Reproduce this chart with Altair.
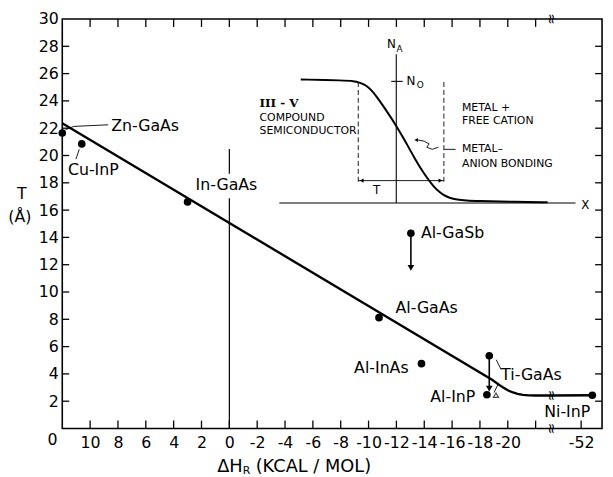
import altair as alt
import pandas as pd

# ---------------- values ----------------
point_names = ["Zn-GaAs", "Cu-InP", "In-GaAs", "Al-GaSb", "Al-GaAs",
               "Al-InAs", "Ti-GaAs", "Al-InP", "Ni-InP"]
point_dH = [12.0, 10.6, 3.0, -13.04, -10.75, -13.8, -18.67, -18.5, -52.8]
point_T = [21.65, 20.85, 16.6, 14.3, 8.12, 4.75, 5.33, 2.47, 2.44]

fit_dH = [12.0, -18.9, -19.3, -19.67, -20.0, -20.38, -20.7, -21.09, -21.5, -22.0, -23.1, -52.8]
fit_T = [22.37, 3.55, 3.25, 3.0, 2.8, 2.64, 2.53, 2.46, 2.43, 2.42, 2.42, 2.44]

x_tick_values = [10, 8, 6, 4, 2, 0, -2, -4, -6, -8, -10, -12, -14, -16, -18, -20, -22, -52]
x_tick_labels = ["10", "8", "6", "4", "2", "0", "-2", "-4", "-6", "-8", "-10",
                 "-12", "-14", "-16", "-18", "-20", "", "-52"]
y_tick_values = [2, 4, 6, 8, 10, 12, 14, 16, 18, 20, 22, 24, 26, 28, 30]

label_text = ["Zn-GaAs", "Cu-InP", "In-GaAs", "Al-GaSb", "Al-GaAs",
              "Al-InAs", "Ti-GaAs", "Al-InP", "Ni-InP"]
label_dH = [8.49, 9.77, 0.21, -13.76, -14.17, -10.92, -19.52, -16.05, -51.0]
label_T = [22.13, 18.93, 17.8, 14.31, 8.82, 4.44, 3.94, 2.27, 1.19]
label_align = ["left", "center", "center", "left", "center",
               "center", "left", "center", "center"]

arrow_dH = [-13.04, -18.67]
arrow_T_from = [14.3, 5.33]
arrow_T_tip = [11.47, 2.63]

open_marker_dH = [-19.15]
open_marker_T = [2.44]

# leader lines: (group, dH, T)
leader_group = ["zn", "zn", "zn", "cu", "cu", "ti1", "ti1", "ti2", "ti2"]
leader_dH = [11.77, 11.18, 8.70, 10.78, 11.02, -19.17, -19.52, -19.36, -19.01]
leader_T = [21.89, 22.13, 22.25, 20.45, 19.73, 5.04, 4.32, 3.36, 2.64]

# vertical line at dH = 0 (interrupted by the In-GaAs label)
zero_line_from = [0.0, 18.66]
zero_line_to = [16.86, 20.47]

# ---------------- inset schematic ----------------
inset_x = [-5.13, -8.32, -8.9, -9.35, -9.7, -10.0, -10.35, -10.68, -11.39, -11.99, -12.57, -13.28,
           -13.99, -14.70, -15.1, -15.41, -15.8, -16.35, -17.0, -17.77, -20.14, -22.86]
inset_N = [25.57, 25.50, 25.45, 25.35, 25.2, 24.98, 24.62, 24.17, 23.12, 22.18, 21.17, 19.84,
           18.64, 17.68, 17.32, 17.08, 16.9, 16.77, 16.7, 16.66, 16.62, 16.57]
inset_axis_x = [-3.59, -24.87]
inset_axis_T = 16.52
inset_NA_pos = -11.99
inset_NA_top = 27.42
inset_N0_T = 25.43
inset_N0_x = [-11.63, -12.45]
inset_dash_x = [-9.26, -15.41]
inset_dash_T = [25.38, 17.92]
inset_T_arrow_T = 18.16

inset_text = ["COMPOUND", "SEMICONDUCTOR", "METAL +",
              "FREE CATION", "METAL\u2013", "ANION BONDING"]
inset_text_x = [-2.17, -2.17, -16.71, -16.71, -16.71, -16.71]
inset_text_T = [22.73, 21.77, 23.50, 22.49, 20.45, 19.36]
inset_roman = "III - V"
inset_roman_x = -2.17
inset_roman_T = 23.85

squiggle_dH = [-15.41, -16.25, None, -15.01, -14.58, -14.18, -14.35, -13.99, -13.52]
squiggle_T = [20.45, 20.45, None, 20.61, 20.45, 20.61, 20.85, 21.05, 21.14]

BREAK_POS = -23.1
SHIFT = 26.73  # axis break: -52 is drawn at position -25.27


def axis_pos(v):
    return v + SHIFT if v < -30 else v


W, H = 547, 415
xs = alt.Scale(domain=[12, -26.77], nice=False, zero=False)
ys = alt.Scale(domain=[0, 30], nice=False, zero=False)
FONT = "DejaVu Sans"

xpos = [axis_pos(v) for v in x_tick_values]
lab_expr = "''"
for p, l in zip(xpos, x_tick_labels):
    lab_expr = f"abs(datum.value - ({p})) < 0.01 ? '{l}' : ({lab_expr})"

X_AXIS = alt.Axis(values=xpos, labelExpr=lab_expr, ticks=False, domain=False,
                  grid=False, title=None, labelFontSize=16, labelFont=FONT,
                  labelColor="black", labelPadding=6, labelOverlap=False, labelFlush=False)
Y_AXIS = alt.Axis(values=y_tick_values, ticks=False, domain=False, grid=False,
                  title=None, labelFontSize=16, labelFont=FONT,
                  labelColor="black", labelPadding=4, labelOverlap=False, labelFlush=False)


def X(field="x"):
    return alt.X(f"{field}:Q", scale=xs, axis=X_AXIS)


def Y(field="y"):
    return alt.Y(f"{field}:Q", scale=ys, axis=Y_AXIS)


# ---------- tick rules (inward ticks on all four sides) ----------
bottom_ticks = alt.Chart(pd.DataFrame({"x": xpos})).mark_rule(color="black", strokeWidth=1.3).encode(
    x=X(), y=alt.value(H), y2=alt.value(H - 8))
top_ticks = alt.Chart(pd.DataFrame({"x": [p for p in xpos if p > -24]})).mark_rule(
    color="black", strokeWidth=1.3).encode(x=X(), y=alt.value(0), y2=alt.value(8))
left_ticks = alt.Chart(pd.DataFrame({"y": y_tick_values[:-1]})).mark_rule(color="black", strokeWidth=1.3).encode(
    y=Y(), x=alt.value(0), x2=alt.value(7))
right_ticks = alt.Chart(pd.DataFrame({"y": y_tick_values[:-1]})).mark_rule(color="black", strokeWidth=1.3).encode(
    y=Y(), x=alt.value(W), x2=alt.value(W - 7))

# vertical line at 0
zero_line = alt.Chart(pd.DataFrame({"x": [0.0, 0.0], "y": zero_line_from, "y2": zero_line_to})).mark_rule(
    color="black", strokeWidth=1.2).encode(x=X(), y=Y(), y2="y2:Q")

# fit line
fit_df = pd.DataFrame({"x": [axis_pos(v) for v in fit_dH], "y": fit_T, "o": range(len(fit_dH))})
fit_line = alt.Chart(fit_df).mark_line(color="black", strokeWidth=2.4).encode(
    x=X(), y=Y(), order="o:Q")

# points
pts_df = pd.DataFrame({"x": [axis_pos(v) for v in point_dH], "y": point_T, "name": point_names})
points = alt.Chart(pts_df).mark_point(filled=True, color="black", size=60, opacity=1).encode(
    x=X(), y=Y(), tooltip="name:N")

# arrows
arr_df = pd.DataFrame({"x": arrow_dH, "y": arrow_T_from, "y2": [t + 0.35 for t in arrow_T_tip]})
arrow_shafts = alt.Chart(arr_df).mark_rule(color="black", strokeWidth=1.6).encode(x=X(), y=Y(), y2="y2:Q")
arrow_heads = alt.Chart(pd.DataFrame({"x": arrow_dH, "y": [t + 0.3 for t in arrow_T_tip]})).mark_point(
    shape="triangle-down", filled=True, color="black", size=45, opacity=1).encode(x=X(), y=Y())

open_marker = alt.Chart(pd.DataFrame({"x": open_marker_dH, "y": open_marker_T})).mark_point(
    shape="triangle-up", filled=False, color="black", size=28, strokeWidth=1.2).encode(x=X(), y=Y())

# leaders
lead_df = pd.DataFrame({"x": leader_dH, "y": leader_T, "g": leader_group, "o": range(len(leader_dH))})
leaders = alt.Chart(lead_df).mark_line(color="black", strokeWidth=0.9).encode(
    x=X(), y=Y(), detail="g:N", order="o:Q")

# point labels
lab_df = pd.DataFrame({"x": [axis_pos(v) for v in label_dH], "y": label_T, "t": label_text, "a": label_align})
labels_left = alt.Chart(lab_df[lab_df.a == "left"]).mark_text(
    align="left", baseline="middle", fontSize=16, font=FONT, color="black").encode(x=X(), y=Y(), text="t:N")
labels_center = alt.Chart(lab_df[lab_df.a == "center"]).mark_text(
    align="center", baseline="middle", fontSize=16, font=FONT, color="black").encode(x=X(), y=Y(), text="t:N")

# ---------- inset ----------
inset_curve = alt.Chart(pd.DataFrame({"x": inset_x, "y": inset_N, "o": range(len(inset_x))})).mark_line(
    color="black", strokeWidth=2.0, interpolate="basis").encode(x=X(), y=Y(), order="o:Q")
inset_xaxis = alt.Chart(pd.DataFrame({"x": [inset_axis_x[0]], "x2": [inset_axis_x[1]], "y": [inset_axis_T]})).mark_rule(
    color="black", strokeWidth=1.1).encode(x=X(), x2="x2:Q", y=Y())
inset_yaxis = alt.Chart(pd.DataFrame({"x": [inset_NA_pos], "y": [inset_axis_T], "y2": [inset_NA_top]})).mark_rule(
    color="black", strokeWidth=1.1).encode(x=X(), y=Y(), y2="y2:Q")
inset_n0 = alt.Chart(pd.DataFrame({"x": [inset_N0_x[0]], "x2": [inset_N0_x[1]], "y": [inset_N0_T]})).mark_rule(
    color="black", strokeWidth=1.1).encode(x=X(), x2="x2:Q", y=Y())
inset_dashes = alt.Chart(pd.DataFrame({"x": inset_dash_x, "y": [inset_dash_T[0]] * 2, "y2": [inset_dash_T[1]] * 2})).mark_rule(
    color="black", strokeWidth=0.9, strokeDash=[5, 3]).encode(x=X(), y=Y(), y2="y2:Q")
inset_tarrow = alt.Chart(pd.DataFrame({"x": [inset_dash_x[0]], "x2": [inset_dash_x[1]], "y": [inset_T_arrow_T]})).mark_rule(
    color="black", strokeWidth=0.9).encode(x=X(), x2="x2:Q", y=Y())
inset_tarrow_l = alt.Chart(pd.DataFrame({"x": [inset_dash_x[0] - 0.25], "y": [inset_T_arrow_T]})).mark_point(
    shape="triangle-left", filled=True, color="black", size=18, opacity=1).encode(x=X(), y=Y())
inset_tarrow_r = alt.Chart(pd.DataFrame({"x": [inset_dash_x[1] + 0.25], "y": [inset_T_arrow_T]})).mark_point(
    shape="triangle-right", filled=True, color="black", size=18, opacity=1).encode(x=X(), y=Y())

sq_rows = []
grp = 0
for i, (a, b) in enumerate(zip(squiggle_dH, squiggle_T)):
    if a is None:
        grp += 1
        continue
    sq_rows.append({"x": a, "y": b, "g": grp, "o": i})
inset_squiggle = alt.Chart(pd.DataFrame(sq_rows)).mark_line(color="black", strokeWidth=0.9).encode(
    x=X(), y=Y(), detail="g:N", order="o:Q")
inset_sq_head = alt.Chart(pd.DataFrame({"x": [squiggle_dH[-1] + 0.1], "y": [squiggle_T[-1]]})).mark_point(
    shape="triangle-left", filled=True, color="black", size=16, opacity=1).encode(x=X(), y=Y())

inset_txt = alt.Chart(pd.DataFrame({"x": inset_text_x, "y": inset_text_T, "t": inset_text})).mark_text(
    align="left", baseline="middle", fontSize=11, font=FONT, color="black").encode(x=X(), y=Y(), text="t:N")
inset_rom = alt.Chart(pd.DataFrame({"x": [inset_roman_x], "y": [inset_roman_T], "t": [inset_roman]})).mark_text(
    align="left", baseline="middle", fontSize=12, font="DejaVu Serif", fontWeight="bold",
    color="black").encode(x=X(), y=Y(), text="t:N")

sym_df = pd.DataFrame({"x": [-10.57, -25.57, -11.65, -13.05],
                       "y": [17.44, 16.35, 28.14, 25.43],
                       "t": ["T", "X", "N", "N"]})
inset_sym = alt.Chart(sym_df).mark_text(align="center", baseline="middle", fontSize=12, font=FONT,
                                        color="black").encode(x=X(), y=Y(), text="t:N")
sub_df = pd.DataFrame({"x": [-12.22, -13.71], "y": [27.83, 25.14], "t": ["A", "O"]})
inset_sub = alt.Chart(sub_df).mark_text(align="center", baseline="middle", fontSize=9, font=FONT,
                                        color="black").encode(x=X(), y=Y(), text="t:N")

# axis-break marks
brk_df = pd.DataFrame({"x": [BREAK_POS, BREAK_POS, BREAK_POS], "y": [0.0, 30.0, 2.42]})
breaks = alt.Chart(brk_df).mark_text(text="\u2248", angle=90, fontSize=14, font=FONT, color="black",
                                     align="center", baseline="middle").encode(x=X(), y=Y())


# ---------- pixel-placed axis titles ----------
def ptext(t, px, py, size, align="left"):
    return alt.Chart(pd.DataFrame({"t": [t]})).mark_text(
        align=align, baseline="middle", fontSize=size, font=FONT, color="black").encode(
        x=alt.value(px), y=alt.value(py), text="t:N")


titles = [
    ptext("\u0394H", 157, 454, 18),
    ptext("R", 183, 458, 11),
    ptext("(KCAL / MOL)", 196, 454, 18),
    ptext("T", -41, 177, 16, "center"),
    ptext("(\u00c5)", -43, 201, 16, "center"),
    ptext("0", -10, 427, 16, "center"),
]

chart = alt.layer(
    bottom_ticks, top_ticks, left_ticks, right_ticks, zero_line, fit_line,
    leaders, arrow_shafts, arrow_heads, points, open_marker, labels_left, labels_center,
    inset_curve, inset_xaxis, inset_yaxis, inset_n0, inset_dashes, inset_tarrow, inset_tarrow_l,
    inset_tarrow_r, inset_squiggle, inset_sq_head, inset_txt, inset_rom, inset_sym, inset_sub, breaks, *titles
).properties(
    width=W, height=H,
    padding={"left": 55, "top": 8, "right": 3, "bottom": 46},
    autosize=alt.AutoSizeParams(type="none"),
    background="white",
).configure_view(stroke="black", strokeWidth=1.6)

chart.save("out.html", embed_options={"renderer": "svg", "actions": False})
